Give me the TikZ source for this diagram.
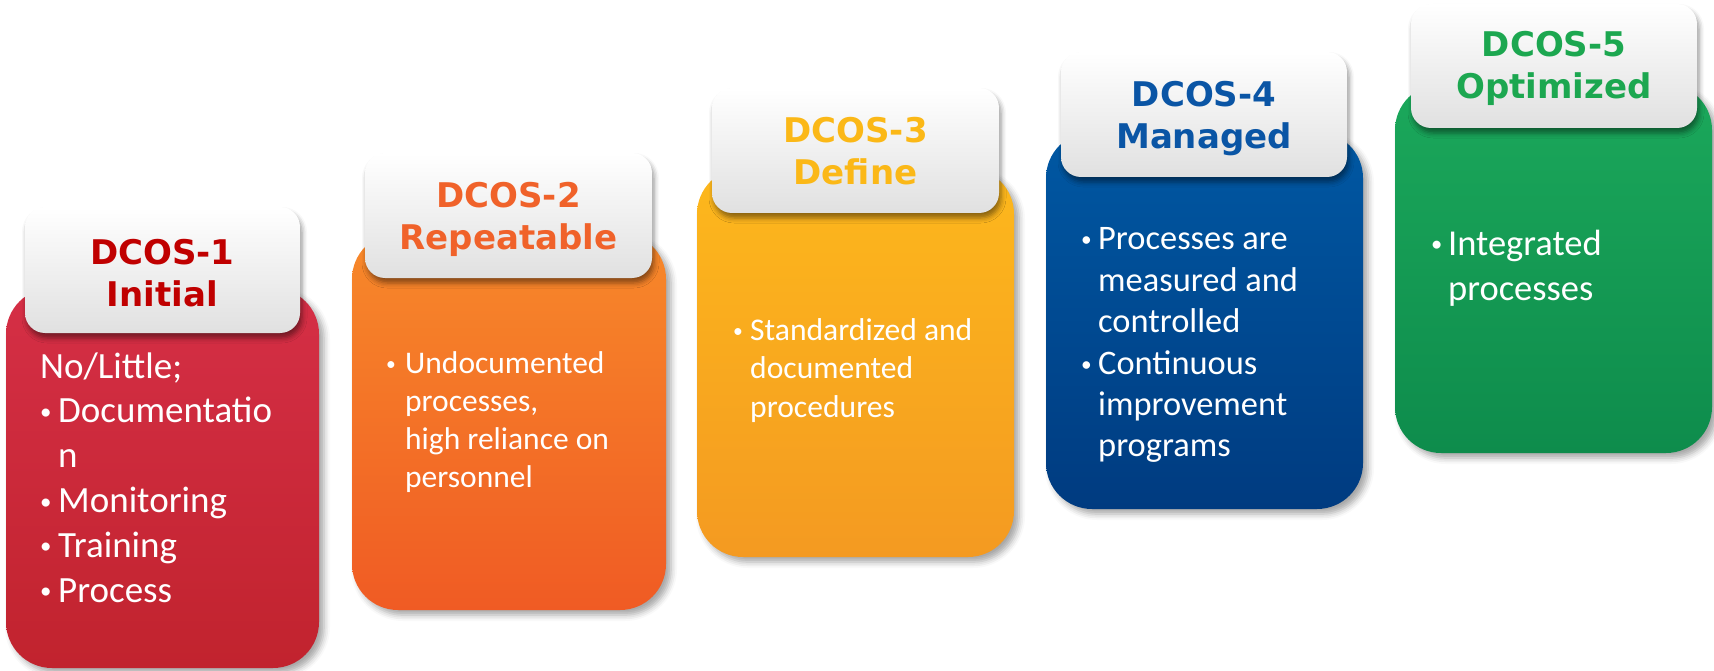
\documentclass[tikz,border=0pt]{standalone}
\usepackage{fontspec}
\usetikzlibrary{shadows.blur}
\newfontfamily\bodyfont{Carlito}
\newfontfamily\headfont{DejaVu Sans}

% stage colours: box gradient (top/bottom) and heading colour
\definecolor{redTop}{HTML}{D52F46}
\definecolor{redBot}{HTML}{C1232E}
\definecolor{redHead}{HTML}{C00000}
\definecolor{orgTop}{HTML}{F7892A}
\definecolor{orgBot}{HTML}{F05B24}
\definecolor{orgHead}{HTML}{F0622A}
\definecolor{yelTop}{HTML}{FDB81C}
\definecolor{yelBot}{HTML}{F49A21}
\definecolor{yelHead}{HTML}{FBB817}
\definecolor{bluTop}{HTML}{0058A3}
\definecolor{bluBot}{HTML}{003B80}
\definecolor{bluHead}{HTML}{0A55A5}
\definecolor{grnTop}{HTML}{1BA85B}
\definecolor{grnBot}{HTML}{0E8C4C}
\definecolor{grnHead}{HTML}{1CA750}

% bullet item helpers: a small dot in a box of width \bw
\newlength\bw
\newcommand\bul{\makebox[\bw][l]{\raisebox{0.09em}{\scalebox{0.62}{•}}}}
\newcommand\ind{\hspace*{\bw}}

\tikzset{
  stagebox/.style={rectangle, rounded corners=46pt, inner sep=0pt, outer sep=0pt, draw=none,
    blur shadow={shadow xshift=5pt, shadow yshift=-5pt, shadow blur radius=6pt, shadow opacity=35}},
  tabbox/.style={rectangle, rounded corners=20pt, inner sep=0pt, outer sep=0pt, draw=none,
    top color=white, bottom color=black!12,
    blur shadow={shadow xshift=2pt, shadow yshift=-5pt, shadow blur radius=5pt, shadow opacity=45}},
  headtext/.style={anchor=base, inner sep=0pt, font=\headfont\bfseries\fontsize{34}{42}\selectfont},
  bodytext/.style={anchor=base west, inner sep=0pt, text=white},
}

\begin{document}
\begin{tikzpicture}[x=1pt, y=-1pt]
\useasboundingbox (0,0) rectangle (1714,671);

% ---- stage boxes ----
\node[stagebox, top color=redTop, bottom color=redBot, minimum width=313pt, minimum height=380pt] (b1) at (162.5,478) {};
\node[stagebox, top color=orgTop, bottom color=orgBot, minimum width=314pt, minimum height=377pt] (b2) at (509,421.5) {};
\node[stagebox, top color=yelTop, bottom color=yelBot, minimum width=317pt, minimum height=389pt] (b3) at (855.5,362.5) {};
\node[stagebox, top color=bluTop, bottom color=bluBot, minimum width=317pt, minimum height=377pt] (b4) at (1204.5,320.5) {};
\node[stagebox, top color=grnTop, bottom color=grnBot, minimum width=317pt, minimum height=369pt] (b5) at (1553.5,268.5) {};

% ---- heading tabs ----
\node[tabbox, minimum width=275pt, minimum height=126pt] (l1) at (162.5,270) {};
\node[tabbox, minimum width=287pt, minimum height=125pt] (l2) at (508.5,215.5) {};
\node[tabbox, minimum width=287pt, minimum height=125pt] (l3) at (855.5,150.5) {};
\node[tabbox, minimum width=286pt, minimum height=125pt] (l4) at (1204,114.5) {};
\node[tabbox, minimum width=286pt, minimum height=124pt] (l5) at (1554,66) {};

% ---- headings ----
\node[headtext, text=redHead] (h1) at (162.5,265) {\parbox[t]{280pt}{\centering DCOS-1\\Initial}};
\node[headtext, text=orgHead] (h2) at (508.5,208) {\parbox[t]{280pt}{\centering DCOS-2\\Repeatable}};
\node[headtext, text=yelHead] (h3) at (855.5,143) {\parbox[t]{280pt}{\centering DCOS-3\\Define}};
\node[headtext, text=bluHead] (h4) at (1204,107) {\parbox[t]{280pt}{\centering DCOS-4\\Managed}};
\node[headtext, text=grnHead] (h5) at (1554,57) {\parbox[t]{280pt}{\centering DCOS-5\\Optimized}};

% ---- body texts ----
\node[bodytext, font=\bodyfont\fontsize{37}{44.8}\selectfont] (x1) at (40,378)
  {\parbox[t]{290pt}{\raggedright\setlength\bw{18pt}No/Little;\\
   \bul Documentatio\\ \ind n\\ \bul Monitoring\\ \bul Training\\ \bul Process}};
\node[bodytext, font=\bodyfont\fontsize{31.5}{38.3}\selectfont] (x2) at (386,373)
  {\parbox[t]{290pt}{\raggedright\setlength\bw{19pt}\bul Undocumented\\
   \ind processes,\\ \ind high reliance on\\ \ind personnel}};
\node[bodytext, font=\bodyfont\fontsize{31.6}{38.5}\selectfont] (x3) at (733,340)
  {\parbox[t]{290pt}{\raggedright\setlength\bw{17pt}\bul Standardized and\\
   \ind documented\\ \ind procedures}};
\node[bodytext, font=\bodyfont\fontsize{34.4}{41.4}\selectfont] (x4) at (1081,250)
  {\parbox[t]{290pt}{\raggedright\setlength\bw{17pt}\bul Processes are\\
   \ind measured and\\ \ind controlled\\ \bul Continuous\\ \ind improvement\\ \ind programs}};
\node[bodytext, font=\bodyfont\fontsize{36.5}{45}\selectfont] (x5) at (1431,255)
  {\parbox[t]{270pt}{\raggedright\setlength\bw{17pt}\bul Integrated\\
   \ind processes}};
\end{tikzpicture}
\end{document}
